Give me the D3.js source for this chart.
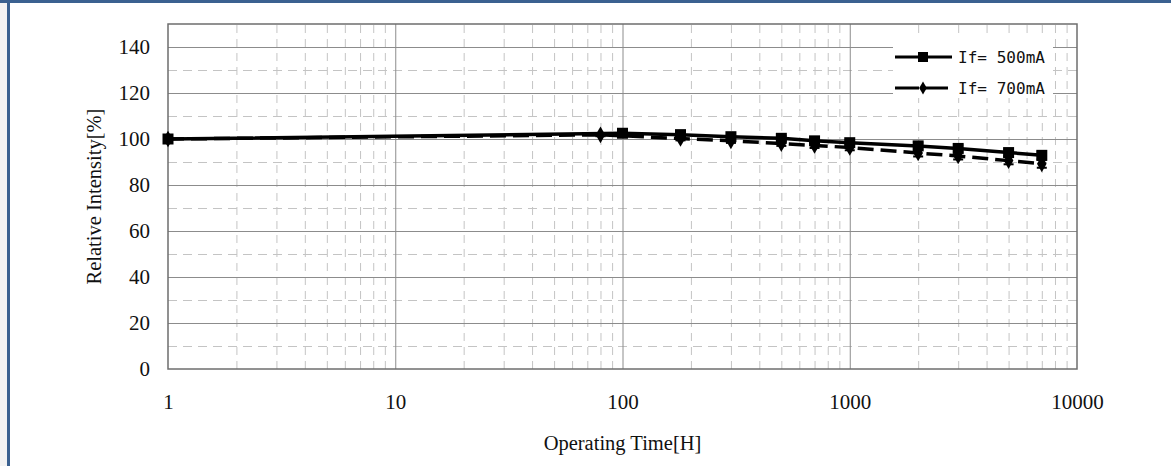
<!DOCTYPE html>
<html>
<head>
<meta charset="utf-8">
<script src="https://cdn.jsdelivr.net/npm/d3@7"></script>
<style>
  body { margin: 0; background: #fff; }
  svg { display: block; }
</style>
</head>
<body>
<div id="chart_area"></div>
<script>
// data
var hours500 = [1, 100, 180, 300, 500, 700, 1000, 2000, 3000, 5000, 7000];
var inten500 = [100, 102.5, 101.9, 101, 100.3, 99.2, 98.4, 97, 95.9, 94.1, 92.9];
var err500 = [0, 0.6, 0.8, 0.9, 1, 1.1, 1.2, 1.4, 1.4, 1.5, 1.5];

var hours700 = [1, 80, 180, 300, 500, 700, 1000, 2000, 3000, 5000, 7000];
var inten700 = [100, 101.8, 100.2, 99.2, 98, 97.2, 96.3, 93.9, 92.6, 90.6, 89.2];
var err700 = [0, 0.6, 0.8, 0.9, 1, 1.1, 1.2, 1.5, 1.5, 1.6, 1.7];

var seriesNames = ['If= 500mA', 'If= 700mA'];
var yTicks = [0, 20, 40, 60, 80, 100, 120, 140];
var xTicks = [1, 10, 100, 1000, 10000];

function draw_chart() {
    var w = 1171, h = 466;
    var left = 168, right = 1077, top = 24, bottom = 369;

    var svg = d3.select('#chart_area').append('svg')
        .attr('width', w)
        .attr('height', h);

    // frame round the picture (only top and left show)
    svg.append('rect').attr('x', 0).attr('y', 0).attr('width', 7).attr('height', h).attr('fill', '#f3f3f3');
    svg.append('rect').attr('x', 0).attr('y', 0).attr('width', w).attr('height', 3).attr('fill', '#3b6190');
    svg.append('rect').attr('x', 7).attr('y', 0).attr('width', 3).attr('height', h).attr('fill', '#3b6190');

    var x = d3.scaleLog().domain([1, 10000]).range([left, right]);
    var y = d3.scaleLinear().domain([0, 150]).range([bottom, top]);

    // minor grid (dashed)
    var minorX = [];
    xTicks.slice(0, -1).forEach(function(d) {
        for (var k = 2; k < 10; k++) minorX.push(d * k);
    });
    var minorY = [10, 30, 50, 70, 90, 110, 130];

    svg.append('g')
        .attr('transform', 'translate(0,' + bottom + ')')
        .call(d3.axisBottom(x).tickValues(minorX).tickSize(-(bottom - top)).tickFormat(''))
        .call(function(g) {
            g.select('.domain').remove();
            g.selectAll('line').attr('stroke', '#c4c4c4').attr('stroke-width', 1).attr('stroke-dasharray', '8,6');
        });
    svg.append('g')
        .attr('transform', 'translate(' + left + ',0)')
        .call(d3.axisLeft(y).tickValues(minorY).tickSize(-(right - left)).tickFormat(''))
        .call(function(g) {
            g.select('.domain').remove();
            g.selectAll('line').attr('stroke', '#c4c4c4').attr('stroke-width', 1).attr('stroke-dasharray', '9,6');
        });

    // major grid (solid)
    svg.append('g')
        .attr('transform', 'translate(0,' + bottom + ')')
        .call(d3.axisBottom(x).tickValues(xTicks.slice(1, -1)).tickSize(-(bottom - top)).tickFormat(''))
        .call(function(g) {
            g.select('.domain').remove();
            g.selectAll('line').attr('stroke', '#8c8c8c').attr('stroke-width', 1);
        });
    svg.append('g')
        .attr('transform', 'translate(' + left + ',0)')
        .call(d3.axisLeft(y).tickValues(yTicks.slice(1)).tickSize(-(right - left)).tickFormat(''))
        .call(function(g) {
            g.select('.domain').remove();
            g.selectAll('line').attr('stroke', '#8c8c8c').attr('stroke-width', 1);
        });

    // plot border
    svg.append('rect')
        .attr('x', left).attr('y', top)
        .attr('width', right - left).attr('height', bottom - top)
        .attr('fill', 'none').attr('stroke', '#6e6e6e').attr('stroke-width', 1.5);

    // tick labels
    svg.append('g')
        .attr('transform', 'translate(' + left + ',0)')
        .call(d3.axisLeft(y).tickValues(yTicks).tickSize(0).tickPadding(18))
        .call(function(g) {
            g.select('.domain').remove();
            g.selectAll('text').attr('font-family', 'Liberation Serif').attr('font-size', 21).attr('fill', '#111');
        });
    svg.append('g')
        .attr('transform', 'translate(0,' + bottom + ')')
        .call(d3.axisBottom(x).tickValues(xTicks).tickSize(0).tickPadding(25).tickFormat(d3.format('d')))
        .call(function(g) {
            g.select('.domain').remove();
            g.selectAll('text').attr('font-family', 'Liberation Serif').attr('font-size', 21).attr('fill', '#111');
        });

    // axis titles
    svg.append('text')
        .attr('x', (left + right) / 2).attr('y', 450)
        .attr('text-anchor', 'middle')
        .attr('font-family', 'Liberation Serif').attr('font-size', 20.5).attr('fill', '#111')
        .text('Operating Time[H]');
    svg.append('text')
        .attr('transform', 'translate(101,' + ((top + bottom) / 2) + ') rotate(-90)')
        .attr('text-anchor', 'middle')
        .attr('font-family', 'Liberation Serif').attr('font-size', 20.5).attr('fill', '#111')
        .text('Relative Intensity[%]');

    var data500 = hours500.map(function(d, i) { return {t: d, v: inten500[i], e: err500[i]}; });
    var data700 = hours700.map(function(d, i) { return {t: d, v: inten700[i], e: err700[i]}; });

    var line = d3.line()
        .x(function(d) { return x(d.t); })
        .y(function(d) { return y(d.v); });

    var series = [
        {data: data700, dash: '16,7', symbol: d3.symbolDiamond, size: 80},
        {data: data500, dash: null, symbol: d3.symbolSquare, size: 121}
    ];

    series.forEach(function(s) {
        // error bars
        var eb = svg.append('g').selectAll('g')
            .data(s.data.filter(function(d) { return d.e > 0; }))
            .enter().append('g');
        eb.append('line')
            .attr('x1', function(d) { return x(d.t); })
            .attr('x2', function(d) { return x(d.t); })
            .attr('y1', function(d) { return y(d.v - d.e); })
            .attr('y2', function(d) { return y(d.v + d.e); })
            .attr('stroke', '#000').attr('stroke-width', 2);
        eb.append('line')
            .attr('x1', function(d) { return x(d.t) - 5; })
            .attr('x2', function(d) { return x(d.t) + 5; })
            .attr('y1', function(d) { return y(d.v - d.e); })
            .attr('y2', function(d) { return y(d.v - d.e); })
            .attr('stroke', '#000').attr('stroke-width', 2);
        eb.append('line')
            .attr('x1', function(d) { return x(d.t) - 5; })
            .attr('x2', function(d) { return x(d.t) + 5; })
            .attr('y1', function(d) { return y(d.v + d.e); })
            .attr('y2', function(d) { return y(d.v + d.e); })
            .attr('stroke', '#000').attr('stroke-width', 2);

        svg.append('path')
            .datum(s.data)
            .attr('d', line)
            .attr('fill', 'none')
            .attr('stroke', '#000')
            .attr('stroke-width', 3.5)
            .attr('stroke-dasharray', s.dash);

        svg.append('g').selectAll('path')
            .data(s.data)
            .enter().append('path')
                .attr('d', d3.symbol().type(s.symbol).size(s.size))
                .attr('transform', function(d) { return 'translate(' + x(d.t) + ',' + y(d.v) + ')'; })
                .attr('fill', '#000');
    });

    // legend
    var lg = svg.append('g');
    lg.append('rect').attr('x', 893).attr('y', 35).attr('width', 160).attr('height', 63).attr('fill', '#fff');
    var legendItems = [
        {name: seriesNames[0], dash: null, symbol: d3.symbolSquare, size: 100, y: 57},
        {name: seriesNames[1], dash: '24,5', symbol: d3.symbolDiamond, size: 50, y: 88}
    ];
    legendItems.forEach(function(it) {
        lg.append('line')
            .attr('x1', 895).attr('x2', 952)
            .attr('y1', it.y).attr('y2', it.y)
            .attr('stroke', '#000').attr('stroke-width', 3)
            .attr('stroke-dasharray', it.dash);
        lg.append('path')
            .attr('d', d3.symbol().type(it.symbol).size(it.size))
            .attr('transform', 'translate(923,' + it.y + ')')
            .attr('fill', '#000');
        lg.append('text')
            .attr('x', 958).attr('y', it.y + 6)
            .attr('font-family', 'DejaVu Sans Mono').attr('font-size', 16)
            .attr('textLength', 87)
            .attr('fill', '#111')
            .text(it.name);
    });
}

draw_chart();
</script>
</body>
</html>
